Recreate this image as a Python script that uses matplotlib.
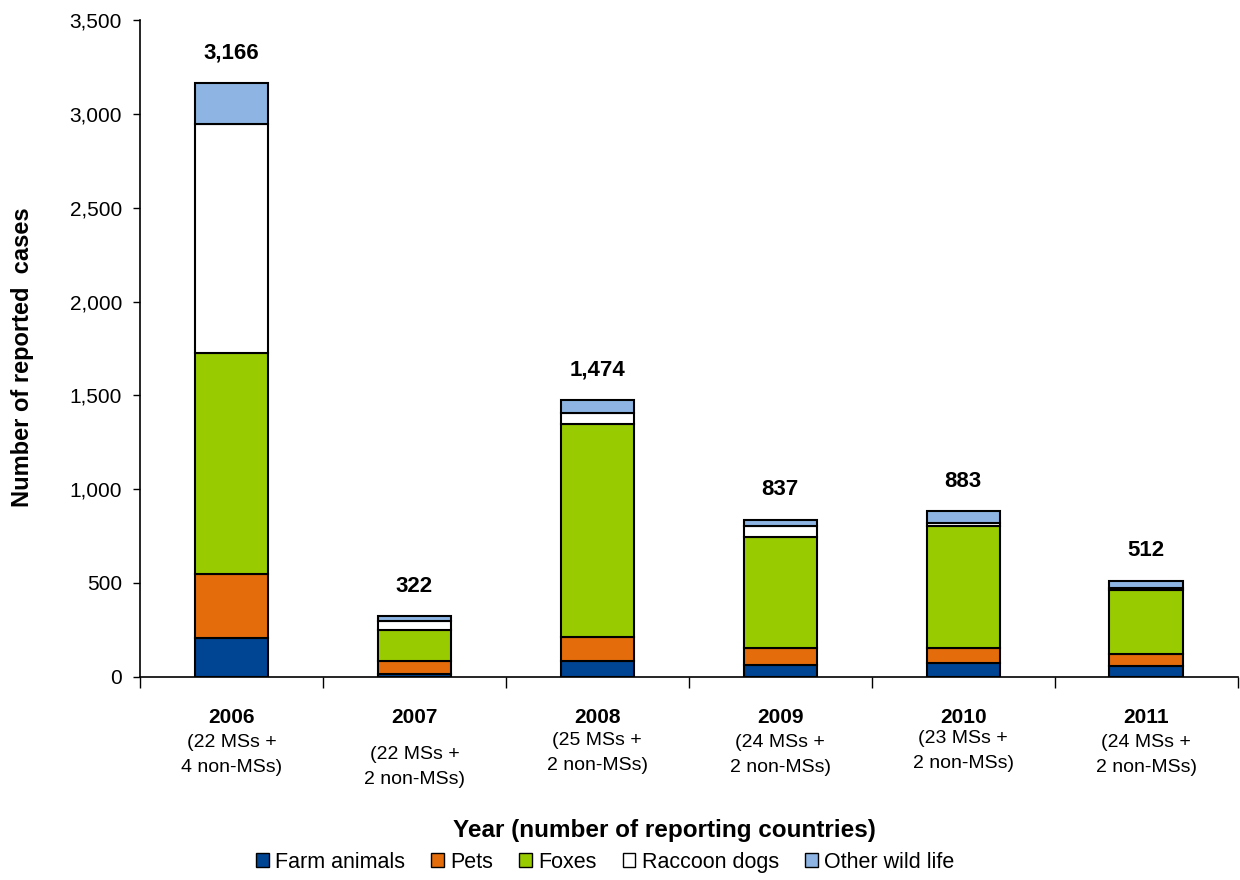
import matplotlib
matplotlib.use('Agg')
import matplotlib.pyplot as plt
import numpy as np
from matplotlib.patches import Patch

plt.rcParams['font.family'] = ['Liberation Sans', 'DejaVu Sans']

# data
years = ['2006', '2007', '2008', '2009', '2010', '2011']
countries = ['(22 MSs +\n4 non-MSs)', '(22 MSs +\n2 non-MSs)', '(25 MSs +\n2 non-MSs)',
             '(24 MSs +\n2 non-MSs)', '(23 MSs +\n2 non-MSs)', '(24 MSs +\n2 non-MSs)']
farm_animals = [205, 16, 85, 64, 73, 55]
pets = [345, 69, 128, 89, 80, 68]
foxes = [1175, 165, 1133, 594, 648, 337]
raccoon_dogs = [1220, 45, 59, 54, 18, 12]
other_wild = [221, 27, 69, 36, 64, 40]
totals = [3166, 322, 1474, 837, 883, 512]

series = [('Farm animals', farm_animals, '#004494'),
          ('Pets', pets, '#E46C0A'),
          ('Foxes', foxes, '#99CC00'),
          ('Raccoon dogs', raccoon_dogs, '#FFFFFF'),
          ('Other wild life', other_wild, '#8DB4E2')]

fig = plt.figure(figsize=(12.4, 8.8), dpi=100)
ax = fig.add_axes([0.113, 0.231, 0.885, 0.746])

x = np.arange(len(years))
bottom = np.zeros(len(years))
for name, vals, col in series:
    ax.bar(x, vals, width=0.4, bottom=bottom, color=col, edgecolor='black',
           linewidth=1.5, label=name, zorder=3)
    bottom += np.array(vals)

# totals above bars
for xi, t in zip(x, totals):
    ax.text(xi, t + 160, f'{t:,}', ha='center', va='center', fontsize=16,
            fontweight='bold')

ax.set_xlim(-0.5, 5.5)
ax.set_ylim(0, 3500)
ax.set_yticks(np.arange(0, 3501, 500))
ax.set_yticklabels([f'{v:,}' for v in range(0, 3501, 500)], fontsize=15)
ax.set_xticks(np.arange(-0.5, 6, 1))
ax.set_xticklabels([])
ax.tick_params(axis='x', direction='out', length=8, width=1)
ax.tick_params(axis='y', direction='out', length=5, width=1, pad=8)
for s in ['top', 'right']:
    ax.spines[s].set_visible(False)
ax.spines['left'].set_linewidth(1.2)
ax.spines['bottom'].set_linewidth(1.2)

ax.set_ylabel('Number of reported  cases', fontsize=17, fontweight='bold')
ax.yaxis.set_label_coords(-0.097, 0.487)

# category labels below axis
sub_offsets = [0, 12, -2, 0, -4, 0]
for xi, yr, c, off in zip(x, years, countries, sub_offsets):
    ax.annotate(yr, (xi, 0), xytext=(0, -41), textcoords='offset pixels',
                ha='center', va='center', fontsize=15, fontweight='bold',
                annotation_clip=False)
    ax.annotate(c, (xi, 0), xytext=(0, -78 - off), textcoords='offset pixels',
                ha='center', va='center', fontsize=14, linespacing=1.6,
                annotation_clip=False)

fig.text(0.536, 1 - 830 / 880, 'Year (number of reporting countries)', ha='center',
         va='center', fontsize=17.5, fontweight='bold')

handles = [Patch(facecolor=col, edgecolor='black', label=name) for name, _, col in series]
fig.legend(handles=handles, loc='center', bbox_to_anchor=(0.488, 1 - 862 / 880),
           ncol=5, frameon=False, handlelength=0.6, handleheight=0.6,
           handletextpad=0.3, columnspacing=1.2, prop={'size': 15.5})

plt.savefig('out.png', dpi=100)
